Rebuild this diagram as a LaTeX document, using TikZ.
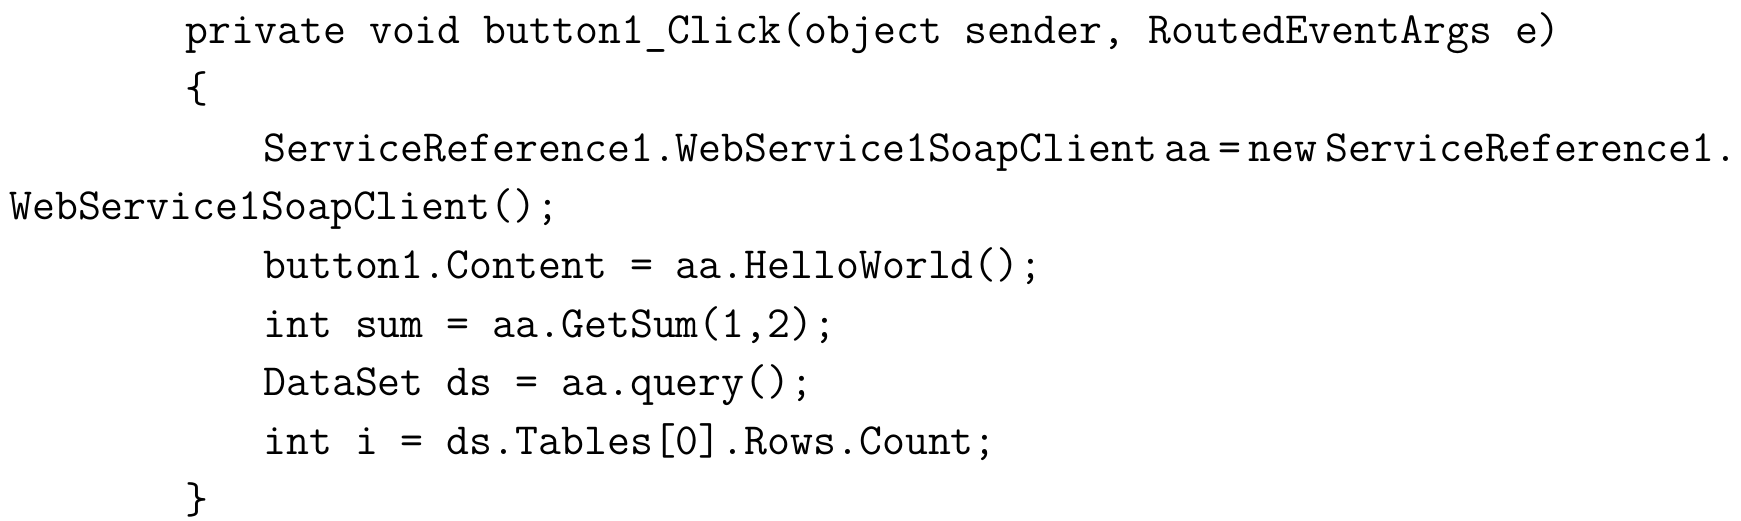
\documentclass[tikz,border=0pt]{standalone}
\usepackage{fontspec}
\usepackage{tikz}

\begin{document}
\begin{tikzpicture}[x=0.5pt, y=-0.5pt]
            \tikzset{
                codeline/.style={anchor=base west, inner sep=0pt, font=\ttfamily\fontsize{22.25pt}{24pt}\selectfont}
            };
            \useasboundingbox (0, 0) rectangle (1741, 520);
            \node[codeline] (sig) at (185.4, 43.7) {private void button1\_Click(object sender, RoutedEventArgs e)};
            \node[codeline] (open) at (185.4, 102.4) {\{};
            \node[codeline] (decl) at (263, 161.1) {ServiceReference1.WebService1SoapClient\hspace{3.8pt}aa\hspace{3.8pt}=\hspace{3.8pt}new\hspace{3.8pt}ServiceReference1.};
            \node[codeline] (declend) at (8.9, 219.8) {WebService1SoapClient();};
            \node[codeline] (hello) at (263, 278.5) {button1.Content = aa.HelloWorld();};
            \node[codeline] (sum) at (263, 337.2) {int sum = aa.GetSum(1,2);};
            \node[codeline] (query) at (263, 395.9) {DataSet ds = aa.query();};
            \node[codeline] (count) at (263, 454.6) {int i = ds.Tables[0].Rows.Count;};
            \node[codeline] (close) at (185.4, 513.3) {\}};
        \end{tikzpicture}
\end{document}
